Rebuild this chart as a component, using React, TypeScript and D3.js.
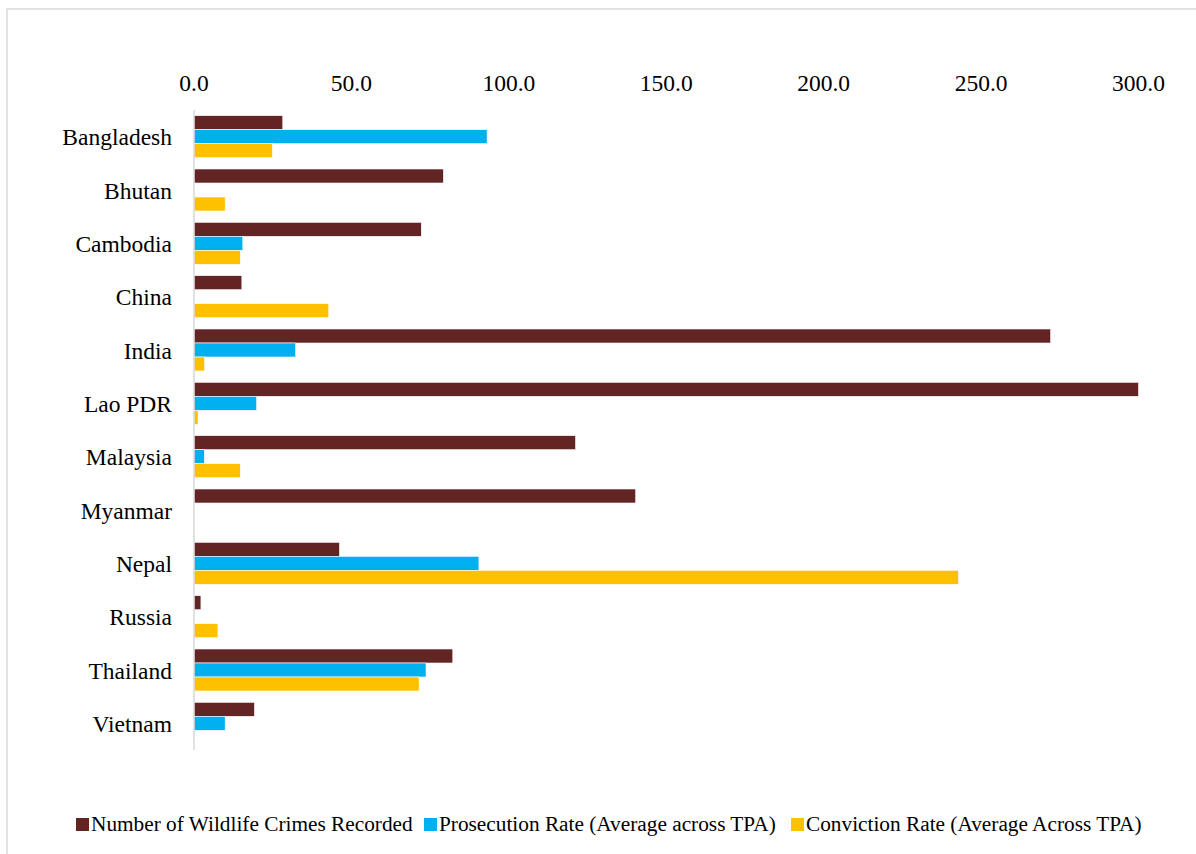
import React from "react";
import * as d3 from "d3";

const countries = ["Bangladesh","Bhutan","Cambodia","China","India","Lao PDR","Malaysia","Myanmar","Nepal","Russia","Thailand","Vietnam"];
const crimes = [28.2, 79.2, 72.2, 15.2, 272.1, 300.0, 121.2, 140.3, 46.2, 2.2, 82.2, 19.2];
const prosecution = [93.1, 0, 15.5, 0, 32.3, 19.9, 3.3, 0, 90.5, 0, 73.7, 9.9];
const conviction = [24.9, 9.9, 14.7, 42.8, 3.4, 1.3, 14.7, 0, 242.8, 7.6, 71.5, 0];
const seriesNames = ["Number of Wildlife Crimes Recorded", "Prosecution Rate (Average across TPA)", "Conviction Rate (Average Across TPA)"];
const seriesColors = ["#632523", "#00B0F0", "#FFC000"];
const tickValues = [0, 50, 100, 150, 200, 250, 300];

const FONT = "'Liberation Serif', 'Times New Roman', serif";

export default function App() {
  const W = 1196, H = 854;
  const x = d3.scaleLinear().domain([0, 300]).range([194, 1138.5]);
  const y0 = d3.scaleBand<string>().domain(countries).range([110, 750]).padding(0);
  const y1 = d3.scaleBand<string>().domain(seriesNames).range([0, y0.bandwidth()]).paddingInner(0).paddingOuter(0.405);
  const allSeries = [crimes, prosecution, conviction];
  const legendX = [76, 424, 791];

  return (
    <svg width={W} height={H} style={{ position: "absolute", left: 0, top: 0, background: "#fff" }}>
      <rect x={7} y={9} width={1300} height={1000} fill="#fff" stroke="#d9d9d9" strokeWidth={1.5} />
      {tickValues.map((t) => (
        <text key={t} x={x(t)} y={91} textAnchor="middle" fontFamily={FONT} fontSize={23.5} fill="#000">
          {d3.format(".1f")(t)}
        </text>
      ))}
      {countries.map((c, i) => (
        <g key={c}>
          <text x={172} y={(y0(c) as number) + y0.bandwidth() / 2 + 8.5} textAnchor="end" fontFamily={FONT} fontSize={23.5} fill="#000">
            {c}
          </text>
          {allSeries.map((s, j) =>
            s[i] > 0 ? (
              <rect
                key={j}
                x={x(0)}
                y={(y0(c) as number) + (y1(seriesNames[j]) as number)}
                width={x(s[i]) - x(0)}
                height={y1.bandwidth()}
                fill={seriesColors[j]}
                stroke="#fff"
                strokeWidth={0.6}
              />
            ) : null
          )}
        </g>
      ))}
      <line x1={x(0)} x2={x(0)} y1={110} y2={750} stroke="#d9d9d9" strokeWidth={1.5} />
      {seriesNames.map((n, j) => (
        <g key={n}>
          <rect x={legendX[j]} y={818} width={13} height={13} fill={seriesColors[j]} />
          <text x={legendX[j] + 15} y={831} fontFamily={FONT} fontSize={21.3} fill="#000">
            {n}
          </text>
        </g>
      ))}
    </svg>
  );
}
